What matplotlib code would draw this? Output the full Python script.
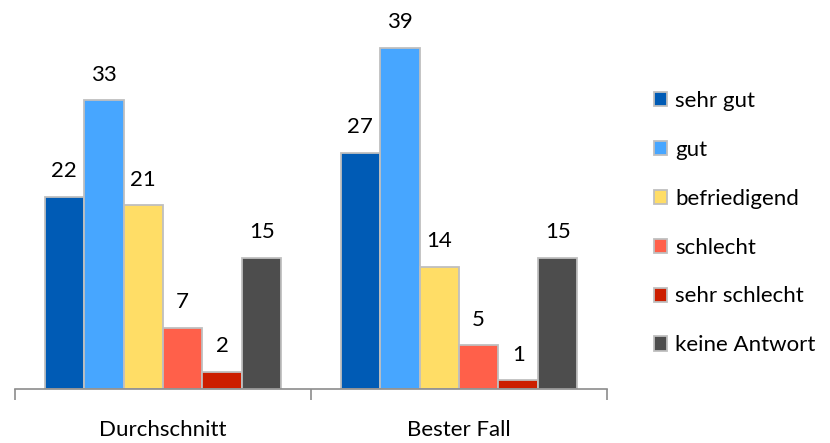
import numpy as np
import matplotlib.pyplot as plt

plt.rcParams['font.family'] = ['Lato', 'DejaVu Sans']

# survey results per scenario
groups = ['Durchschnitt', 'Bester Fall']
ratings = ['sehr gut', 'gut', 'befriedigend', 'schlecht', 'sehr schlecht', 'keine Antwort']
values = {
    'sehr gut': [22, 27],
    'gut': [33, 39],
    'befriedigend': [21, 14],
    'schlecht': [7, 5],
    'sehr schlecht': [2, 1],
    'keine Antwort': [15, 15],
}
colors = ['#005bb5', '#47a6ff', '#ffdd66', '#ff604a', '#cc1e00', '#4d4d4d']

fig = plt.figure(figsize=(8.3, 4.43), dpi=100)
ax = fig.add_axes([15 / 830, 54 / 443, 592 / 830, 350 / 443])

x = np.arange(len(groups))
width = 0.8 / len(ratings)

for i, (name, col) in enumerate(zip(ratings, colors)):
    pos = x - 0.4 + width * (i + 0.5)
    bars = ax.bar(pos, values[name], width, color=col, edgecolor='#bfbfbf',
                  linewidth=1.3, label=name)
    for b, v in zip(bars, values[name]):
        ax.text(b.get_x() + b.get_width() / 2, v + 2.9, str(v), ha='center',
                va='center', fontsize=16, clip_on=False)

ax.set_xlim(-0.5, 1.5)
ax.set_ylim(0, 40)

# category axis with tick marks between groups
for s in ['top', 'right', 'left']:
    ax.spines[s].set_visible(False)
ax.spines['bottom'].set_color('#8c8c8c')
ax.spines['bottom'].set_linewidth(1.2)
ax.set_yticks([])
ax.set_xticks([-0.5, 0.5, 1.5])
ax.set_xticklabels([])
ax.set_xticks(x, minor=True)
ax.set_xticklabels(groups, minor=True, fontsize=16)
ax.tick_params(axis='x', which='major', length=8, color='#8c8c8c', width=1.2)
ax.tick_params(axis='x', which='minor', length=0, pad=22)

ax.legend(loc='upper left', bbox_to_anchor=(645 / 830, 0.815), bbox_transform=fig.transFigure,
          frameon=False, fontsize=16, handlelength=0.6, handleheight=0.6,
          handletextpad=0.35, labelspacing=1.3, borderaxespad=0)

fig.savefig('out.png', dpi=100)
